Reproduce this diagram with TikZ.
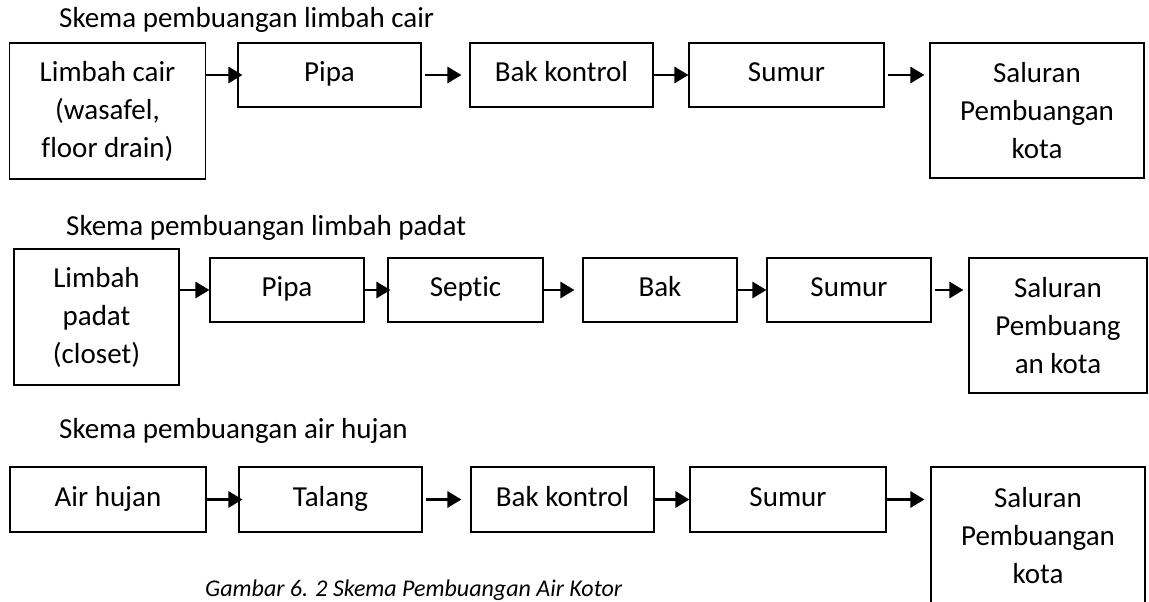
\documentclass[tikz,border=0pt]{standalone}
\usepackage{fontspec}
\setmainfont{Carlito}[Ligatures=NoCommon]
\usepackage{tikz}
\usetikzlibrary{arrows.meta}

\begin{document}
\begin{tikzpicture}[
  x=1pt, y=-1pt,
  font=\fontsize{29}{38}\selectfont,
  >={Triangle[length=14pt,width=16pt]},
  sbox/.style={
    draw=black,
    line width=1.1pt,
    inner sep=0pt,
    text height=19pt,
    text depth=6pt
  },
  tbox/.style={
    draw=black,
    line width=1.1pt,
    align=center,
    inner sep=0pt
  },
  arr/.style={->, line width=2.8pt, black},
  ttl/.style={anchor=base west, inner sep=0pt},
]
  \useasboundingbox (0,0) rectangle (1149,602);

  % ========== limbah cair ==========
  \node[ttl] (t1) at (59,28) {Skema pembuangan limbah cair};
  \node[tbox, minimum width=196, minimum height=136] (lc1) at (107.5,111)
    {Limbah cair\\(wasafel,\\floor drain)};
  \node[sbox, minimum width=183, minimum height=64] (pipa1) at (329.5,75) {Pipa};
  \node[sbox, minimum width=183, minimum height=64] (bak1) at (561.5,75) {Bak kontrol};
  \node[sbox, minimum width=195, minimum height=64] (sumur1) at (786.5,75) {Sumur};
  \node[tbox, minimum width=214, minimum height=135] (kota1) at (1037,110.5)
    {Saluran\\Pembuangan\\kota};

  \draw[arr, shorten >=-5pt] (lc1.east |- pipa1.west) -- (pipa1.west);
  \draw[arr, shorten <=3pt, shorten >=8pt] (pipa1) -- (bak1);
  \draw[arr] (bak1) -- (sumur1);
  \draw[arr, shorten <=3pt, shorten >=5pt] (sumur1.east) -- (sumur1.east -| kota1.west);

  % ========== limbah padat ==========
  \node[ttl] (t2) at (66,235) {Skema pembuangan limbah padat};
  \node[tbox, minimum width=165, minimum height=136] (lp2) at (96.5,317)
    {Limbah\\padat\\(closet)};
  \node[sbox, minimum width=154, minimum height=64] (pipa2) at (287,290) {Pipa};
  \node[sbox, minimum width=155, minimum height=64] (septic2) at (465.5,290) {Septic};
  \node[sbox, minimum width=154, minimum height=64] (bak2) at (660,290) {Bak};
  \node[sbox, minimum width=164, minimum height=64] (sumur2) at (849,290) {Sumur};
  \node[tbox, minimum width=178, minimum height=135] (kota2) at (1058,325.5)
    {Saluran\\Pembuang\\an kota};

  \draw[arr] (lp2.east |- pipa2.west) -- (pipa2.west);
  \draw[arr, shorten >=-3pt] (pipa2) -- (septic2);
  \draw[arr, shorten >=8pt] (septic2) -- (bak2);
  \draw[arr] (bak2) -- (sumur2);
  \draw[arr, shorten <=3pt, shorten >=5pt] (sumur2.east) -- (sumur2.east -| kota2.west);

  % ========== air hujan ==========
  \node[ttl] (t3) at (59,438) {Skema pembuangan air hujan};
  \node[sbox, minimum width=196, minimum height=65] (air3) at (108,499.5) {Air hujan};
  \node[sbox, minimum width=183, minimum height=65] (talang3) at (330.5,499.5) {Talang};
  \node[sbox, minimum width=183, minimum height=65] (bak3) at (562.5,499.5) {Bak kontrol};
  \node[sbox, minimum width=196, minimum height=65] (sumur3) at (788,499.5) {Sumur};
  \node[tbox, minimum width=214, minimum height=137] (kota3) at (1038,535.5)
    {Saluran\\Pembuangan\\kota};

  \draw[arr, shorten >=-4pt] (air3) -- (talang3);
  \draw[arr, shorten <=3pt, shorten >=9pt] (talang3) -- (bak3);
  \draw[arr] (bak3) -- (sumur3);
  \draw[arr, shorten >=6pt] (sumur3.east) -- (sumur3.east -| kota3.west);

  % caption
  \node[ttl, font=\fontsize{24}{28}\selectfont\itshape] (cap) at (205,596)
    {Gambar 6. 2 Skema Pembuangan Air Kotor};
\end{tikzpicture}
\end{document}
